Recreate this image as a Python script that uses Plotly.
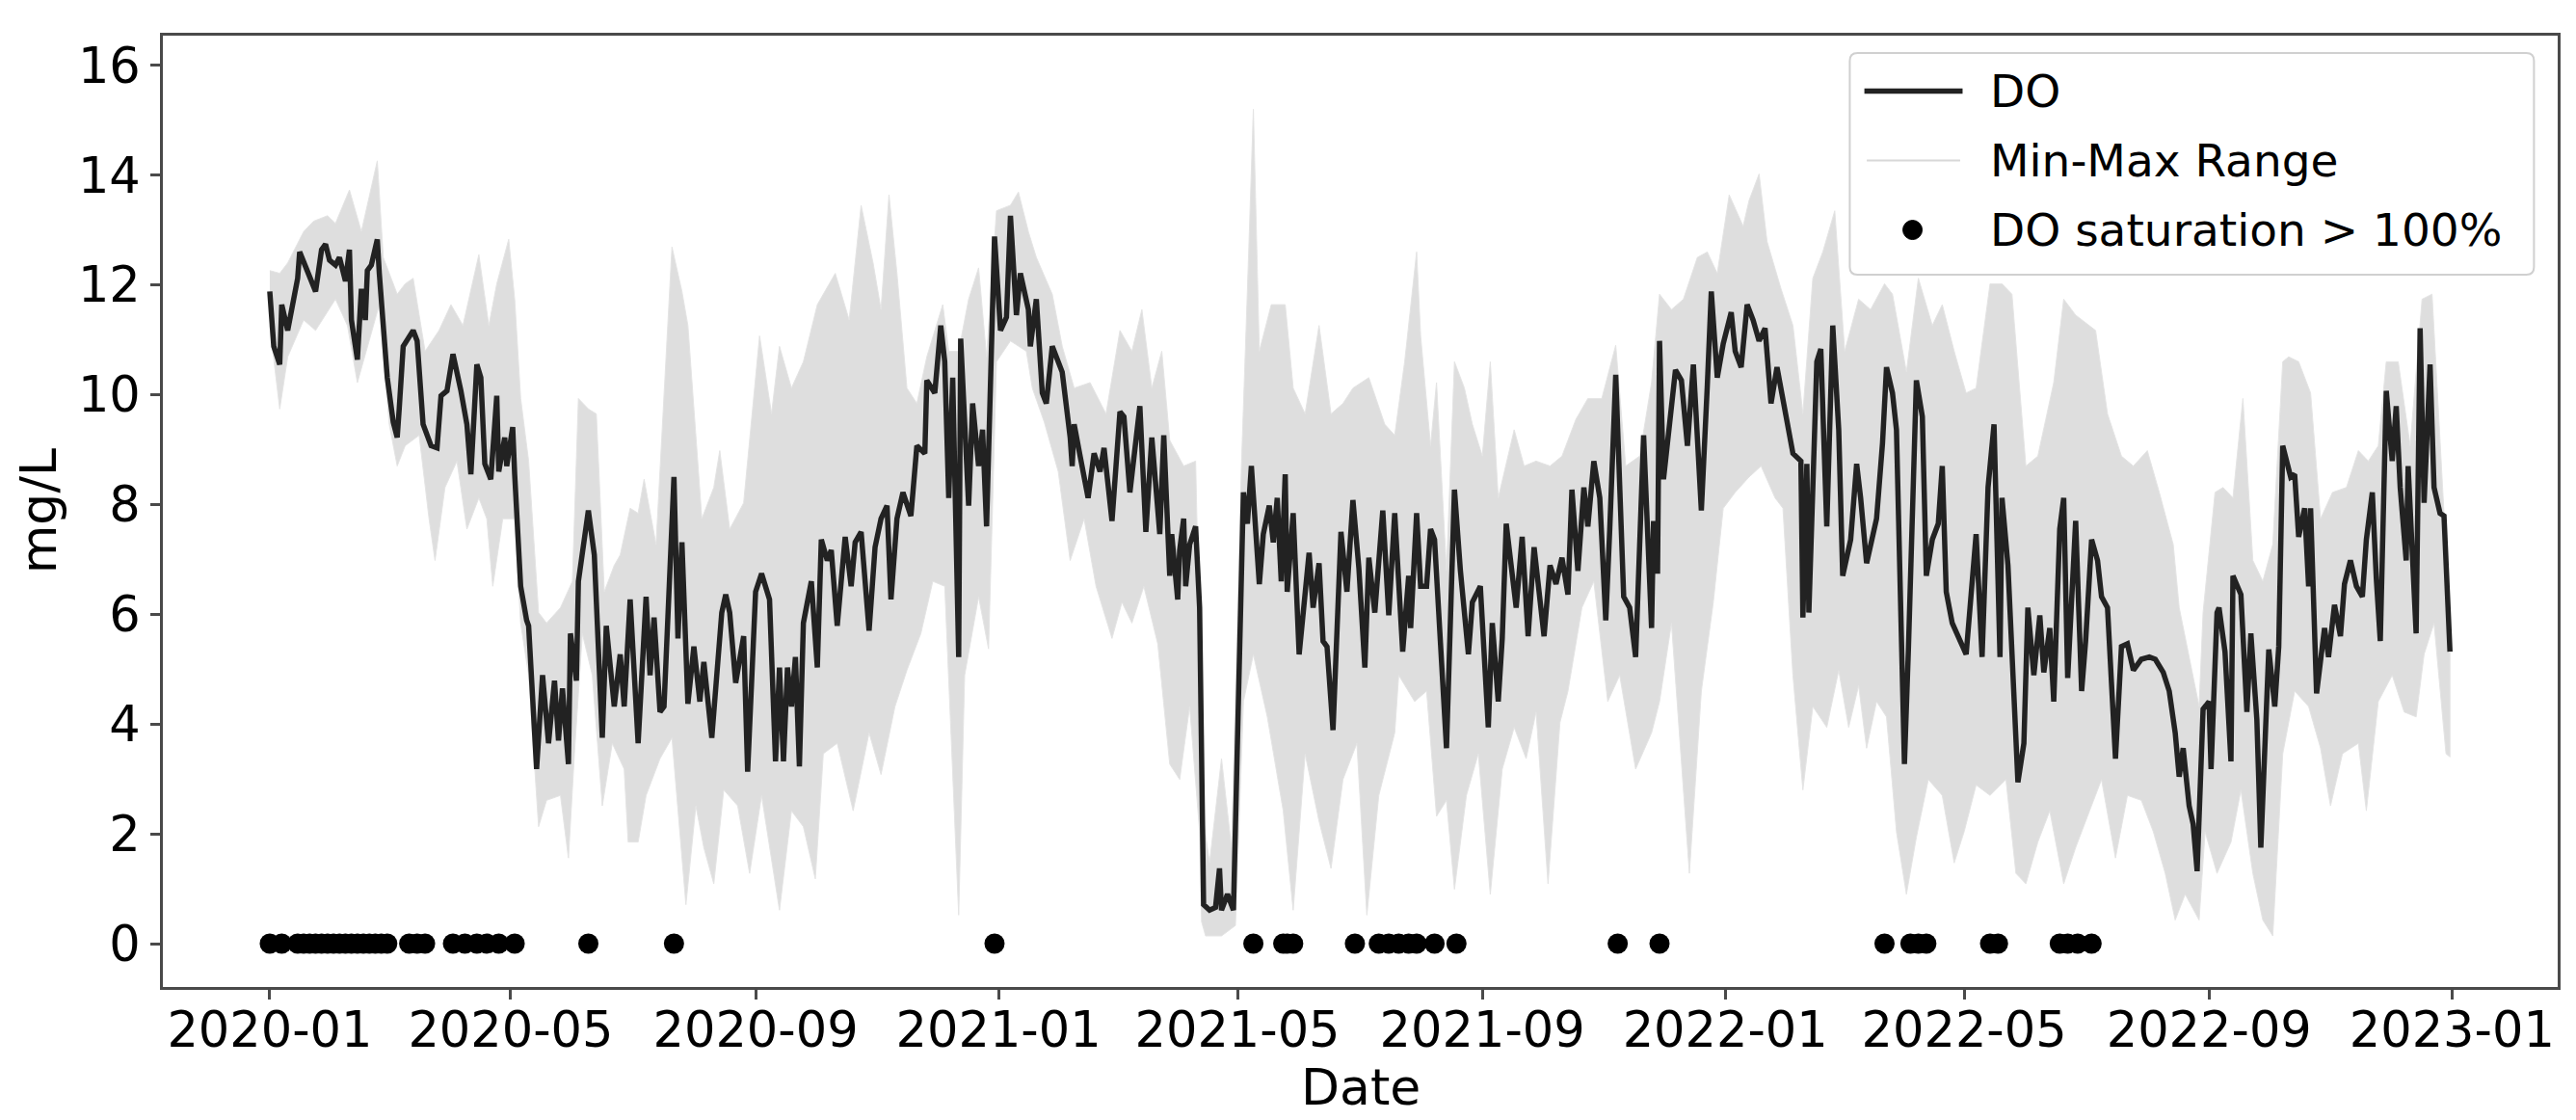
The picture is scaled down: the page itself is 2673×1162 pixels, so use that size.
import numpy as np
import pandas as pd
import plotly.graph_objects as go

START = pd.Timestamp('2020-01-01')

# daily mean DO (mg/L), sampled at turning points; days counted from 2020-01-01
do_days = [0, 2, 5, 6, 9, 11, 14, 15, 19, 23, 26, 28, 30, 33, 35, 38, 40, 41, 44, 46,
           48, 49, 51, 54, 55, 59, 62, 64, 65, 67, 72, 74, 77, 81, 84, 86, 89, 92, 96, 99,
           101, 104, 106, 108, 111, 114, 115, 118, 119, 122, 123, 125, 126, 129, 130, 134, 137, 140, 143, 145,
           147, 150, 151, 154, 155, 160, 163, 167, 169, 173, 176, 178, 181, 185,
           189, 191, 193, 196, 198, 203, 205, 207, 210, 213, 216, 218, 222, 227, 229, 231, 234, 238, 240, 244,
           247, 251, 254, 256, 258, 260, 262, 264, 266, 268, 272, 275, 277, 280, 282, 285, 289, 292, 294, 297,
           301, 304, 307, 310, 312, 315, 318, 322, 325, 329, 330, 334, 337, 339, 341, 343, 346, 347, 351, 353,
           356, 358, 360, 364, 367, 370, 372, 375, 377, 381,
           382, 385, 388, 390, 393, 398, 402, 403, 404, 407, 411, 414, 417, 419, 423, 427, 429, 432, 435, 437,
           440, 443, 447, 449, 452, 453, 456, 457, 459, 460, 462, 465, 467, 469, 472, 475, 477, 478, 481, 484,
           489, 491, 493, 497, 499, 502, 504, 506, 508, 510, 511, 514, 517, 519, 522, 524, 527, 529, 531, 534,
           538, 541, 544, 547, 550, 552, 555, 559, 562, 565,
           569, 572, 573, 576, 578, 581, 583, 585, 591, 595, 598, 602, 604, 608, 612, 614, 617, 619, 621, 626,
           629, 632, 635, 640, 643, 646, 649, 652, 654, 657, 660, 662, 665, 668, 671, 673, 676, 680, 683, 686,
           690, 694, 695, 697, 698, 700, 703, 706, 709, 712, 715, 719, 722, 724, 727, 730, 734, 736, 739, 742,
           745, 748, 751, 754, 757,
           765, 769, 770, 772, 773, 777, 779, 782, 785, 788, 790, 794, 797, 799, 802, 807, 810, 812, 815, 817,
           821, 823, 827, 830, 832, 835, 838, 840, 842, 845, 849, 852, 857, 860, 863, 866, 869, 870, 873, 878,
           881, 883, 886, 889, 891, 894, 896, 899, 901, 903, 907, 910, 912, 915, 918, 920, 923, 927, 930, 933,
           936, 940, 944, 947, 951, 954,
           957, 959, 961, 964, 966, 968, 971, 974, 975, 978, 979, 982, 985, 986, 990, 993, 995, 998, 1000, 1004,
           1007, 1009, 1011, 1015, 1017, 1019, 1022, 1024, 1025, 1028, 1032, 1034, 1037, 1040, 1042, 1045, 1048, 1051, 1053, 1056,
           1058, 1060, 1063, 1066, 1068, 1070, 1073, 1074, 1078, 1080, 1082, 1085, 1087, 1090, 1092, 1095]
do_mean = [11.88, 10.88, 10.55, 11.64, 11.17, 11.55, 12.12, 12.6, 12.26, 11.88, 12.64, 12.74, 12.45, 12.36, 12.5, 12.07, 12.64, 11.36, 10.64, 11.93,
           11.36, 12.26, 12.36, 12.83, 12.21, 10.31, 9.5, 9.22, 9.74, 10.88, 11.17, 10.98, 9.46, 9.07, 9.03, 9.98, 10.07, 10.74, 10.07, 9.46,
           8.55, 10.55, 10.31, 8.74, 8.46, 9.98, 8.6, 9.22, 8.7, 9.41, 8.55, 7.08, 6.51, 5.89, 5.79, 3.18, 4.89, 3.65, 4.79, 3.7,
           4.65, 3.27, 5.65, 4.79, 6.6, 7.89, 7.08, 3.75, 5.79, 4.32, 5.27, 4.32, 6.27, 3.65,
           6.32, 4.89, 5.94, 4.22, 4.32, 8.5, 5.56, 7.31, 4.37, 5.41, 4.41, 5.13, 3.75, 6.03, 6.36, 6.03, 4.75, 5.6, 3.13, 6.41,
           6.74, 6.27, 3.32, 5.03, 3.32, 5.03, 4.32, 5.22, 3.23, 5.84, 6.6, 5.03, 7.36, 6.98, 7.17, 5.79, 7.41, 6.51, 7.31, 7.5,
           5.7, 7.22, 7.74, 7.98, 6.27, 7.74, 8.22, 7.79, 9.07, 8.93, 10.26, 10.03, 11.26, 10.6, 8.12, 10.31, 5.22, 11.02, 7.98, 9.84,
           8.7, 9.36, 7.6, 12.88, 11.17, 11.41, 13.26, 11.45, 12.21, 11.55,
           10.88, 11.74, 10.03, 9.84, 10.88, 10.41, 9.22, 8.7, 9.46, 8.88, 8.12, 8.93, 8.6, 9.03, 7.7, 9.69, 9.6, 8.22, 9.26, 9.79,
           7.5, 9.22, 7.46, 9.26, 6.7, 7.46, 6.27, 7.17, 7.74, 6.51, 7.27, 7.6, 6.12, 0.71, 0.61, 0.66, 1.37, 0.61, 0.9, 0.61,
           8.22, 7.65, 8.7, 6.55, 7.46, 7.98, 7.31, 8.12, 6.6, 8.55, 6.41, 7.84, 5.27, 5.98, 7.12, 6.12, 6.93, 5.51, 5.41, 3.89,
           7.5, 6.41, 8.08, 6.84, 5.03, 7.03, 6.03, 7.89, 5.98, 7.84,
           5.32, 6.7, 5.75, 7.84, 6.51, 6.51, 7.55, 7.36, 3.56, 8.27, 6.79, 5.27, 6.22, 6.51, 3.94, 5.84, 4.41, 5.56, 7.65, 6.12,
           7.41, 5.6, 7.22, 5.6, 6.89, 6.55, 7.03, 6.36, 8.27, 6.79, 8.31, 7.6, 8.79, 8.12, 5.89, 7.55, 10.36, 6.32, 6.12, 5.22,
           9.26, 5.75, 7.7, 6.74, 10.98, 8.46, 9.55, 10.45, 10.26, 9.07, 10.55, 7.89, 10.17, 11.88, 10.31, 10.93, 11.5, 10.79, 10.5, 11.64,
           11.36, 10.98, 11.21, 9.84, 10.5,
           8.93, 8.79, 5.94, 8.74, 6.03, 10.6, 10.83, 7.6, 11.26, 9.36, 6.7, 7.36, 8.74, 8.12, 6.93, 7.74, 9.12, 10.5, 10.03, 9.36,
           3.27, 5.36, 10.26, 9.6, 6.7, 7.36, 7.65, 8.7, 6.41, 5.84, 5.51, 5.27, 7.46, 5.22, 8.31, 9.46, 5.22, 8.12, 6.89, 2.94,
           3.65, 6.12, 4.89, 5.98, 4.94, 5.75, 4.41, 7.55, 8.12, 4.84, 7.7, 4.6, 5.51, 7.36, 6.98, 6.32, 6.12, 3.37, 5.41, 5.46,
           4.98, 5.18, 5.22, 5.18, 4.94, 4.6,
           3.84, 3.04, 3.56, 2.51, 2.18, 1.32, 4.27, 4.41, 3.18, 6.03, 6.12, 5.32, 3.32, 6.7, 6.36, 4.22, 5.65, 4.08, 1.75, 5.36,
           4.32, 5.41, 9.07, 8.5, 8.55, 7.41, 7.93, 6.51, 7.93, 4.56, 5.75, 5.22, 6.17, 5.6, 6.55, 6.98, 6.51, 6.32, 7.36, 8.22,
           6.65, 5.51, 10.07, 8.79, 9.79, 8.31, 6.98, 8.7, 5.65, 11.21, 8.03, 10.55, 8.31, 7.84, 7.79, 5.32]

# upper edge of the daily min-max band
max_days = [0, 5, 9, 17, 22, 29, 33, 40, 46, 54, 57, 64, 68, 72, 78, 85, 91, 97, 105, 110,
            114, 120, 123, 126, 130, 135, 139, 146, 152, 155, 160, 164, 168, 173, 176, 181,
            185, 188, 194, 202, 207, 210, 217, 223, 226, 231, 238, 246, 252, 256, 262, 268, 275, 284, 291, 297,
            303, 307, 311, 315, 320, 325, 330, 338, 341, 346, 351, 356, 360, 365, 372, 376,
            381, 385, 393, 398, 404, 412, 420, 427, 433, 438, 443, 448, 452, 459, 465, 469, 472, 478, 483, 488,
            492, 494, 497, 503, 510, 514, 520, 527, 533, 539, 544, 552, 560,
            565, 570, 576, 578, 583, 586, 591, 595, 600, 604, 609, 613, 617, 625, 630, 636, 643, 649, 656, 662,
            669, 676, 681, 688, 694, 698, 704, 710, 717, 722, 727, 733, 740, 743, 748, 752,
            759, 765, 770, 775, 780, 786, 791, 798, 804, 811, 815, 822, 828, 835, 840, 846, 852, 857, 864, 870,
            875, 882, 888, 896, 901, 907, 917, 923, 930, 936, 943, 949, 956,
            959, 966, 969, 971, 977, 981, 986, 991, 996, 1001, 1006, 1011, 1014, 1019, 1025, 1030, 1036, 1043, 1049, 1054,
            1059, 1063, 1069, 1075, 1081, 1086, 1090, 1095]
do_max = [12.26, 12.21, 12.4, 12.97, 13.16, 13.26, 13.12, 13.73, 12.97, 14.26, 12.5, 11.83, 12.02, 12.12, 10.79, 11.17, 11.64, 11.26, 12.55, 11.26,
          12.02, 12.83, 11.74, 9.93, 8.79, 6.03, 5.84, 6.12, 6.6, 9.93, 9.74, 9.65, 6.41, 6.89, 7.08, 7.93,
          7.84, 8.46, 7.27, 12.69, 11.88, 11.26, 7.74, 8.31, 8.98, 7.55, 8.03, 11.07, 9.65, 10.88, 10.12, 10.6, 11.64, 12.21, 11.36, 13.45,
          12.4, 11.55, 13.64, 12.21, 10.12, 9.84, 10.69, 11.64, 10.79, 10.79, 11.74, 12.31, 10.69, 13.35, 13.45, 13.69,
          12.97, 12.5, 11.83, 10.88, 10.12, 10.22, 9.65, 11.17, 10.79, 11.55, 10.12, 10.79, 9.17, 8.7, 8.79, 2.23, 1.47, 3.37, 1.75, 8.7,
          12.97, 15.2, 10.79, 11.64, 11.64, 10.12, 9.65, 11.26, 9.65, 9.84, 10.12, 10.31, 9.46,
          9.26, 10.6, 12.6, 11.07, 9.07, 10.22, 6.79, 10.6, 10.12, 9.46, 8.88, 10.6, 8.12, 9.36, 8.7, 8.79, 8.7, 8.88, 9.55, 9.93,
          9.93, 10.9, 8.7, 8.88, 10.22, 11.83, 11.55, 11.74, 12.5, 12.6, 12.21, 13.64, 13.07, 13.54, 14.02, 12.79,
          11.93, 11.26, 9.65, 12.12, 12.6, 13.35, 10.79, 11.74, 11.55, 12.02, 11.83, 10.41, 12.12, 11.26, 11.64, 10.79, 10.03, 10.12, 12.02, 12.02,
          11.83, 8.7, 8.88, 10.22, 11.74, 11.45, 11.17, 9.65, 8.88, 8.7, 8.98, 8.22, 7.27,
          6.12, 4.89, 4.32, 6.03, 8.22, 8.31, 8.12, 9.93, 6.98, 6.6, 7.27, 10.6, 10.69, 10.6, 10.03, 7.74, 8.22, 8.31, 8.98, 8.79,
          9.07, 10.6, 10.6, 9.07, 11.74, 11.83, 9.07, 5.84]

# lower edge of the daily min-max band
min_days = [0, 5, 9, 17, 23, 33, 39, 44, 49, 55, 60, 64, 68, 75, 80, 83, 88, 94, 99, 105,
            109, 112, 117, 123, 126, 130, 135, 139, 146, 150, 153, 157, 162, 167, 172, 178, 180,
            185, 189, 196, 202, 209, 214, 218, 223, 228, 235, 241, 247, 256, 262, 268, 274, 278, 285, 293, 301,
            307, 314, 320, 327, 333, 339, 346, 349, 356, 361, 365, 372, 380,
            383, 389, 396, 402, 409, 415, 423, 428, 433, 439, 446, 452, 457, 462, 467, 468, 470, 478, 485, 489,
            494, 501, 509, 514, 520, 527, 533, 539, 546, 551, 557, 565,
            567, 575, 581, 586, 591, 595, 601, 607, 613, 619, 625, 631, 636, 642, 648, 652, 659, 665, 672, 678,
            686, 694, 698, 704, 713, 719, 725, 730, 736, 743, 749, 756, 760,
            765, 770, 775, 782, 788, 793, 798, 802, 807, 812, 817, 822, 827, 833, 840, 846, 851, 857, 864, 872,
            877, 882, 888, 894, 901, 907, 914, 920, 927, 933, 940, 946, 952, 957,
            962, 969, 972, 978, 985, 990, 996, 1001, 1006, 1011, 1017, 1024, 1030, 1035, 1041, 1049, 1053, 1059, 1066, 1072,
            1078, 1082, 1087, 1093, 1095]
do_min = [11.26, 9.74, 10.69, 11.36, 11.17, 11.74, 11.26, 10.22, 10.88, 11.64, 9.46, 8.7, 9.07, 9.26, 7.74, 6.98, 8.31, 8.79, 7.55, 8.12,
          7.74, 6.51, 7.74, 7.74, 5.84, 4.89, 2.13, 2.61, 2.7, 1.56, 3.46, 5.65, 4.89, 2.51, 3.65, 3.18, 1.85,
          1.85, 2.7, 3.37, 3.75, 0.71, 2.51, 1.75, 1.09, 2.8, 2.51, 1.28, 2.7, 0.61, 2.42, 2.13, 1.18, 3.46, 3.65, 2.42, 3.84,
          3.08, 4.32, 4.98, 5.65, 6.6, 6.51, 0.52, 4.89, 6.32, 5.37, 10.6, 10.98, 10.79,
          10.12, 9.5, 8.6, 6.98, 7.74, 6.51, 5.56, 6.22, 5.84, 6.51, 5.46, 3.27, 2.99, 4.32, 2.04, 0.4, 0.14, 0.14, 0.33, 4.41,
          5.27, 4.13, 2.42, 0.61, 3.46, 2.23, 1.37, 2.99, 3.65, 0.52, 2.7, 3.84,
          4.89, 4.41, 4.6, 2.32, 2.61, 0.99, 2.7, 3.46, 0.9, 3.18, 3.94, 3.37, 4.22, 1.09, 4.03, 4.6, 6.12, 6.6, 4.41, 4.89,
          3.18, 3.84, 4.41, 5.84, 1.28, 4.6, 6.22, 7.93, 8.22, 8.5, 8.7, 8.12, 7.93,
          4.89, 2.8, 4.32, 3.94, 4.98, 3.94, 4.7, 3.56, 4.41, 4.13, 2.04, 0.9, 1.94, 2.99, 2.7, 1.47, 2.04, 2.89, 2.7, 2.99,
          1.28, 1.09, 1.85, 2.42, 1.09, 1.75, 2.42, 2.99, 1.56, 2.7, 2.61, 2.04, 1.28, 0.43,
          0.9, 0.43, 2.04, 1.28, 1.85, 2.8, 1.28, 0.43, 0.14, 3.46, 4.6, 4.32, 3.56, 2.51, 3.46, 3.65, 2.42, 4.41, 4.89, 4.22,
          4.13, 5.27, 5.84, 3.46, 3.4]

# days with DO saturation above 100 %
sat_days = [0, 6, 14, 17, 20, 23, 26, 29, 32, 35, 38, 41, 44, 47, 50, 53, 56, 59, 70, 74,
            78, 92, 98, 104, 109, 115, 123, 160, 203, 364, 494, 509, 511, 514, 545, 557, 562, 567, 572, 576,
            585, 596, 677, 698, 811, 824, 828, 832, 864, 868, 899, 903, 908, 915]

legend_labels = ['DO', 'Min-Max Range', 'DO saturation > 100%']


def to_dates(days):
    return START + pd.to_timedelta(np.array(days, dtype=float), unit='D')


FONT = 'DejaVu Sans'
AXIS_COLOR = '#4a4a4a'
LINE_COLOR = '#222222'
BAND_COLOR = '#dedede'

fig = go.Figure()

# min-max band, drawn as one closed outline
band_x = list(to_dates(max_days)) + list(to_dates(min_days))[::-1]
band_y = list(do_max) + list(do_min)[::-1]
fig.add_trace(go.Scatter(x=band_x,
                         y=band_y,
                         fill='toself',
                         fillcolor=BAND_COLOR,
                         line=dict(color='#e4e4e4', width=1),
                         mode='lines',
                         name=legend_labels[1],
                         hoverinfo='skip',
                         showlegend=False))

fig.add_trace(go.Scatter(x=to_dates(do_days),
                         y=do_mean,
                         name=legend_labels[0],
                         mode='lines',
                         line=dict(color=LINE_COLOR, width=5.5),
                         showlegend=False))

fig.add_trace(go.Scatter(x=to_dates(sat_days),
                         y=np.zeros(len(sat_days)),
                         name=legend_labels[2],
                         mode='markers',
                         marker=dict(color='black', size=21),
                         showlegend=False))

axis_style = dict(showline=True,
                  mirror=True,
                  linecolor=AXIS_COLOR,
                  linewidth=3,
                  ticks='outside',
                  ticklen=10,
                  tickwidth=3,
                  tickcolor=AXIS_COLOR,
                  showgrid=False,
                  zeroline=False,
                  tickfont=dict(family=FONT, size=51, color='black'))

fig.update_xaxes(type='date',
                 range=[START - pd.Timedelta(days=53.7), START + pd.Timedelta(days=1149.1)],
                 tick0='2020-01-01',
                 dtick='M4',
                 tickformat='%Y-%m',
                 ticklabelstandoff=-12,
                 **axis_style)
fig.update_yaxes(range=[-0.79, 16.54], tick0=0, dtick=2, **axis_style)

fig.add_annotation(text='Date', xref='paper', yref='paper', x=0.5, y=-0.1054,
                   xanchor='center', yanchor='middle', showarrow=False,
                   font=dict(family=FONT, size=52, color='black'))
fig.add_annotation(text='mg/L', xref='paper', yref='paper', x=-0.052, y=0.5,
                   xanchor='center', yanchor='middle', textangle=-90, showarrow=False,
                   font=dict(family=FONT, size=52, color='black'))

# legend box drawn in the upper right corner, matplotlib style
lx0, lx1, ly0, ly1 = 0.7044, 0.9901, 0.7487, 0.9817
rx, ry = 0.0032, 0.0081
box_path = (f'M {lx0 + rx},{ly1} L {lx1 - rx},{ly1} Q {lx1},{ly1} {lx1},{ly1 - ry} '
            f'L {lx1},{ly0 + ry} Q {lx1},{ly0} {lx1 - rx},{ly0} '
            f'L {lx0 + rx},{ly0} Q {lx0},{ly0} {lx0},{ly0 + ry} '
            f'L {lx0},{ly1 - ry} Q {lx0},{ly1} {lx0 + rx},{ly1} Z')
fig.add_shape(type='path', path=box_path, xref='paper', yref='paper',
              fillcolor='rgba(255,255,255,0.8)', line=dict(color='#d0d0d0', width=2))

row_y = [0.9417, 0.8687, 0.7958]
fig.add_shape(type='line', xref='paper', yref='paper', x0=0.7105, x1=0.7515,
              y0=row_y[0], y1=row_y[0], line=dict(color=LINE_COLOR, width=5.5))
fig.add_shape(type='line', xref='paper', yref='paper', x0=0.7115, x1=0.7505,
              y0=row_y[1], y1=row_y[1], line=dict(color='#d8d8d8', width=2))
fig.add_shape(type='circle', xref='paper', yref='paper', xsizemode='pixel', ysizemode='pixel',
              xanchor=0.7306, yanchor=row_y[2], x0=-10, x1=10, y0=-10, y1=10,
              fillcolor='black', line=dict(color='black', width=1))
for label, yy in zip(legend_labels, row_y):
    fig.add_annotation(text=label, xref='paper', yref='paper', x=0.7622, y=yy,
                       xanchor='left', yanchor='middle', showarrow=False,
                       font=dict(family=FONT, size=47, color='black'))

fig.update_layout(width=2673,
                  height=1162,
                  margin=dict(l=161, r=27, t=29, b=146),
                  paper_bgcolor='white',
                  plot_bgcolor='white',
                  font=dict(family=FONT, color='black'),
                  showlegend=False)

fig.write_html('out.html')
